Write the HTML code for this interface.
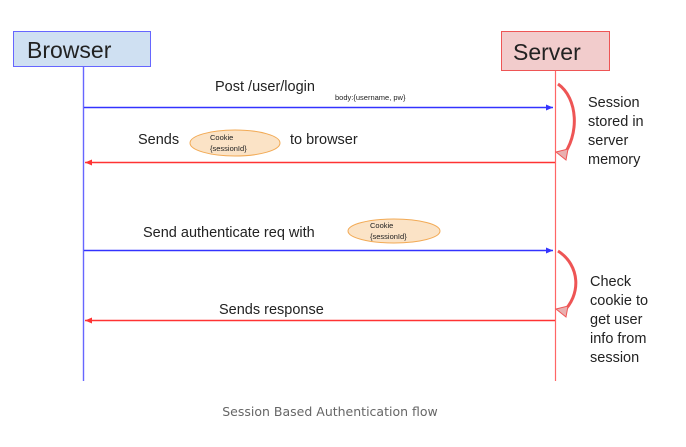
<!DOCTYPE html>
<html><head><style>
body{margin:0;background:#fff;}
text{font-family:"Liberation Sans",Arial,sans-serif;fill:#222;}
</style></head><body>
<svg width="686" height="442" xmlns="http://www.w3.org/2000/svg">
<defs>
<marker id="ab" markerWidth="8" markerHeight="8" refX="7" refY="4" orient="auto" markerUnits="userSpaceOnUse"><path d="M0,1 L7,4 L0,7z" fill="#3333ff"/></marker>
<marker id="ar" markerWidth="8" markerHeight="8" refX="7" refY="4" orient="auto" markerUnits="userSpaceOnUse"><path d="M0,1 L7,4 L0,7z" fill="#ff3333"/></marker>
</defs>
<rect x="13.5" y="31.5" width="137" height="35" fill="#cfe0f2" stroke="#6666ff"/>
<text x="27" y="58" font-size="23">Browser</text>
<rect x="501.5" y="31.5" width="108" height="39" fill="#f2cccc" stroke="#ee5555"/>
<text x="513" y="60" font-size="23">Server</text>
<line x1="83.5" y1="67" x2="83.5" y2="381" stroke="#6666ff" stroke-width="1.4"/>
<line x1="555.5" y1="71" x2="555.5" y2="381" stroke="#ff6666" stroke-width="1.2"/>

<line x1="84" y1="107.5" x2="553" y2="107.5" stroke="#3333ff" stroke-width="1.4" marker-end="url(#ab)"/>
<text x="215" y="91" font-size="14.5">Post /user/login</text>
<text x="335" y="100" font-size="7.5">body:{username, pw}</text>

<line x1="555" y1="162.5" x2="85" y2="162.5" stroke="#ff3333" stroke-width="1.4" marker-end="url(#ar)"/>
<text x="138" y="144" font-size="14.5">Sends</text>
<ellipse cx="235" cy="143" rx="45" ry="13" fill="#fbe3c6" stroke="#f2aa55"/>
<text x="210" y="140" font-size="7.5">Cookie</text>
<text x="210" y="151" font-size="7.5">{sessionId}</text>
<text x="290" y="144" font-size="14.5">to browser</text>

<path d="M558,84 C578,98 580,135 562,157" fill="none" stroke="#ee5555" stroke-width="3"/>
<path d="M556,152 L566,160 L568,149z" fill="#e9b0b0" stroke="#ee5555"/>
<text font-size="14.5"><tspan x="588" y="107">Session</tspan><tspan x="588" y="126">stored in</tspan><tspan x="588" y="145">server</tspan><tspan x="588" y="164">memory</tspan></text>

<line x1="84" y1="250.5" x2="553" y2="250.5" stroke="#3333ff" stroke-width="1.4" marker-end="url(#ab)"/>
<text x="143" y="237" font-size="14.5">Send authenticate req with</text>
<ellipse cx="394" cy="231" rx="46" ry="12" fill="#fbe3c6" stroke="#f2aa55"/>
<text x="370" y="228" font-size="7.5">Cookie</text>
<text x="370" y="239" font-size="7.5">{sessionId}</text>

<line x1="555" y1="320.5" x2="85" y2="320.5" stroke="#ff3333" stroke-width="1.4" marker-end="url(#ar)"/>
<text x="219" y="314" font-size="14.5">Sends response</text>

<path d="M558,251 C580,265 582,295 562,313" fill="none" stroke="#ee5555" stroke-width="3"/>
<path d="M556,309 L566,317 L568,306z" fill="#e9b0b0" stroke="#ee5555"/>
<text font-size="14.5"><tspan x="590" y="286">Check</tspan><tspan x="590" y="305">cookie to</tspan><tspan x="590" y="324">get user</tspan><tspan x="590" y="343">info from</tspan><tspan x="590" y="362">session</tspan></text>

<text x="330" y="416" font-size="12.5" text-anchor="middle" style="fill:#666;font-family:'DejaVu Sans','Liberation Sans',sans-serif">Session Based Authentication flow</text>
</svg>
</body></html>
